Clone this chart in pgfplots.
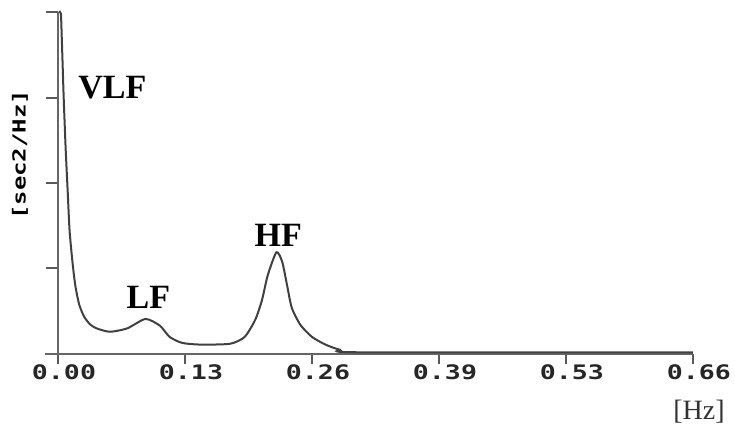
\documentclass[border=0pt]{standalone}
\usepackage{fontspec}
\setmainfont{Liberation Serif}
\newfontfamily\tickfont[FakeStretch=1.33]{DejaVu Sans Mono}
\usepackage{pgfplots}
\pgfplotsset{compat=1.18}

\begin{document}
\begin{tikzpicture}
% fixed page: 735x427 px at 0.5pt per px, axis origin at px (58,354)
\path[use as bounding box] (-29pt,-36.5pt) rectangle (338.5pt,177pt);
\begin{axis}[
  at={(0,0)}, anchor=south west,
  scale only axis, width=317.5pt, height=171pt,
  xmin=0, xmax=0.66, ymin=0, ymax=4,
  axis x line=bottom, axis y line=left,
  axis line style={-, line width=1.3pt, black!60},
  x axis line style={shorten <=-6.5pt},
  tick align=outside,
  xtick={0,0.132,0.264,0.396,0.528,0.66},
  xticklabels={0.00,0.13,0.26,0.39,0.53,0.66},
  ytick={0,1,2,3,4}, yticklabels={},
  xtick style={black!65, line width=1pt, /pgfplots/major tick length=5pt},
  ytick style={black!65, line width=1pt, /pgfplots/major tick length=6pt},
  xticklabel style={font=\tickfont\bfseries\fontsize{10}{10}\selectfont, text=black!85,
    anchor=center, yshift=-5pt, xshift=3pt},
  xlabel={[Hz]}, ylabel={[sec2/Hz]},
  every axis x label/.style={at={(axis description cs:1.0094,-0.1696)}, anchor=center,
    font=\fontsize{14}{14}\selectfont, text=black!80},
  every axis y label/.style={at={(axis description cs:-0.0598,0.582)}, anchor=center, rotate=90,
    font=\tickfont\bfseries\fontsize{9}{9}\selectfont},
  clip=false]
\addplot[black!75, line width=1pt, smooth, tension=0.4] coordinates {
  (0.001,4.00) (0.003,3.98) (0.004,3.67) (0.005,3.32) (0.006,2.97)
  (0.008,2.39) (0.010,1.92) (0.012,1.45) (0.015,1.08) (0.018,0.80)
  (0.022,0.58) (0.027,0.44) (0.033,0.35) (0.040,0.30) (0.054,0.26)
  (0.072,0.30) (0.091,0.41) (0.106,0.33) (0.116,0.20) (0.129,0.13)
  (0.148,0.11) (0.179,0.12) (0.194,0.20) (0.205,0.40) (0.212,0.63)
  (0.218,0.92) (0.227,1.19) (0.233,1.08) (0.238,0.81) (0.243,0.54)
  (0.252,0.34) (0.264,0.20) (0.278,0.11) (0.293,0.05) (0.314,0.02)
  (0.66,0.02)};
\node[font=\bfseries\fontsize{17}{17}\selectfont, anchor=west, inner sep=0pt] at (axis cs:0.0208,3.11) {VLF};
\node[font=\bfseries\fontsize{17}{17}\selectfont, inner sep=0pt] at (axis cs:0.094,0.66) {LF};
\node[font=\bfseries\fontsize{17}{17}\selectfont, inner sep=0pt] at (axis cs:0.229,1.39) {HF};
\end{axis}
\end{tikzpicture}
\end{document}
